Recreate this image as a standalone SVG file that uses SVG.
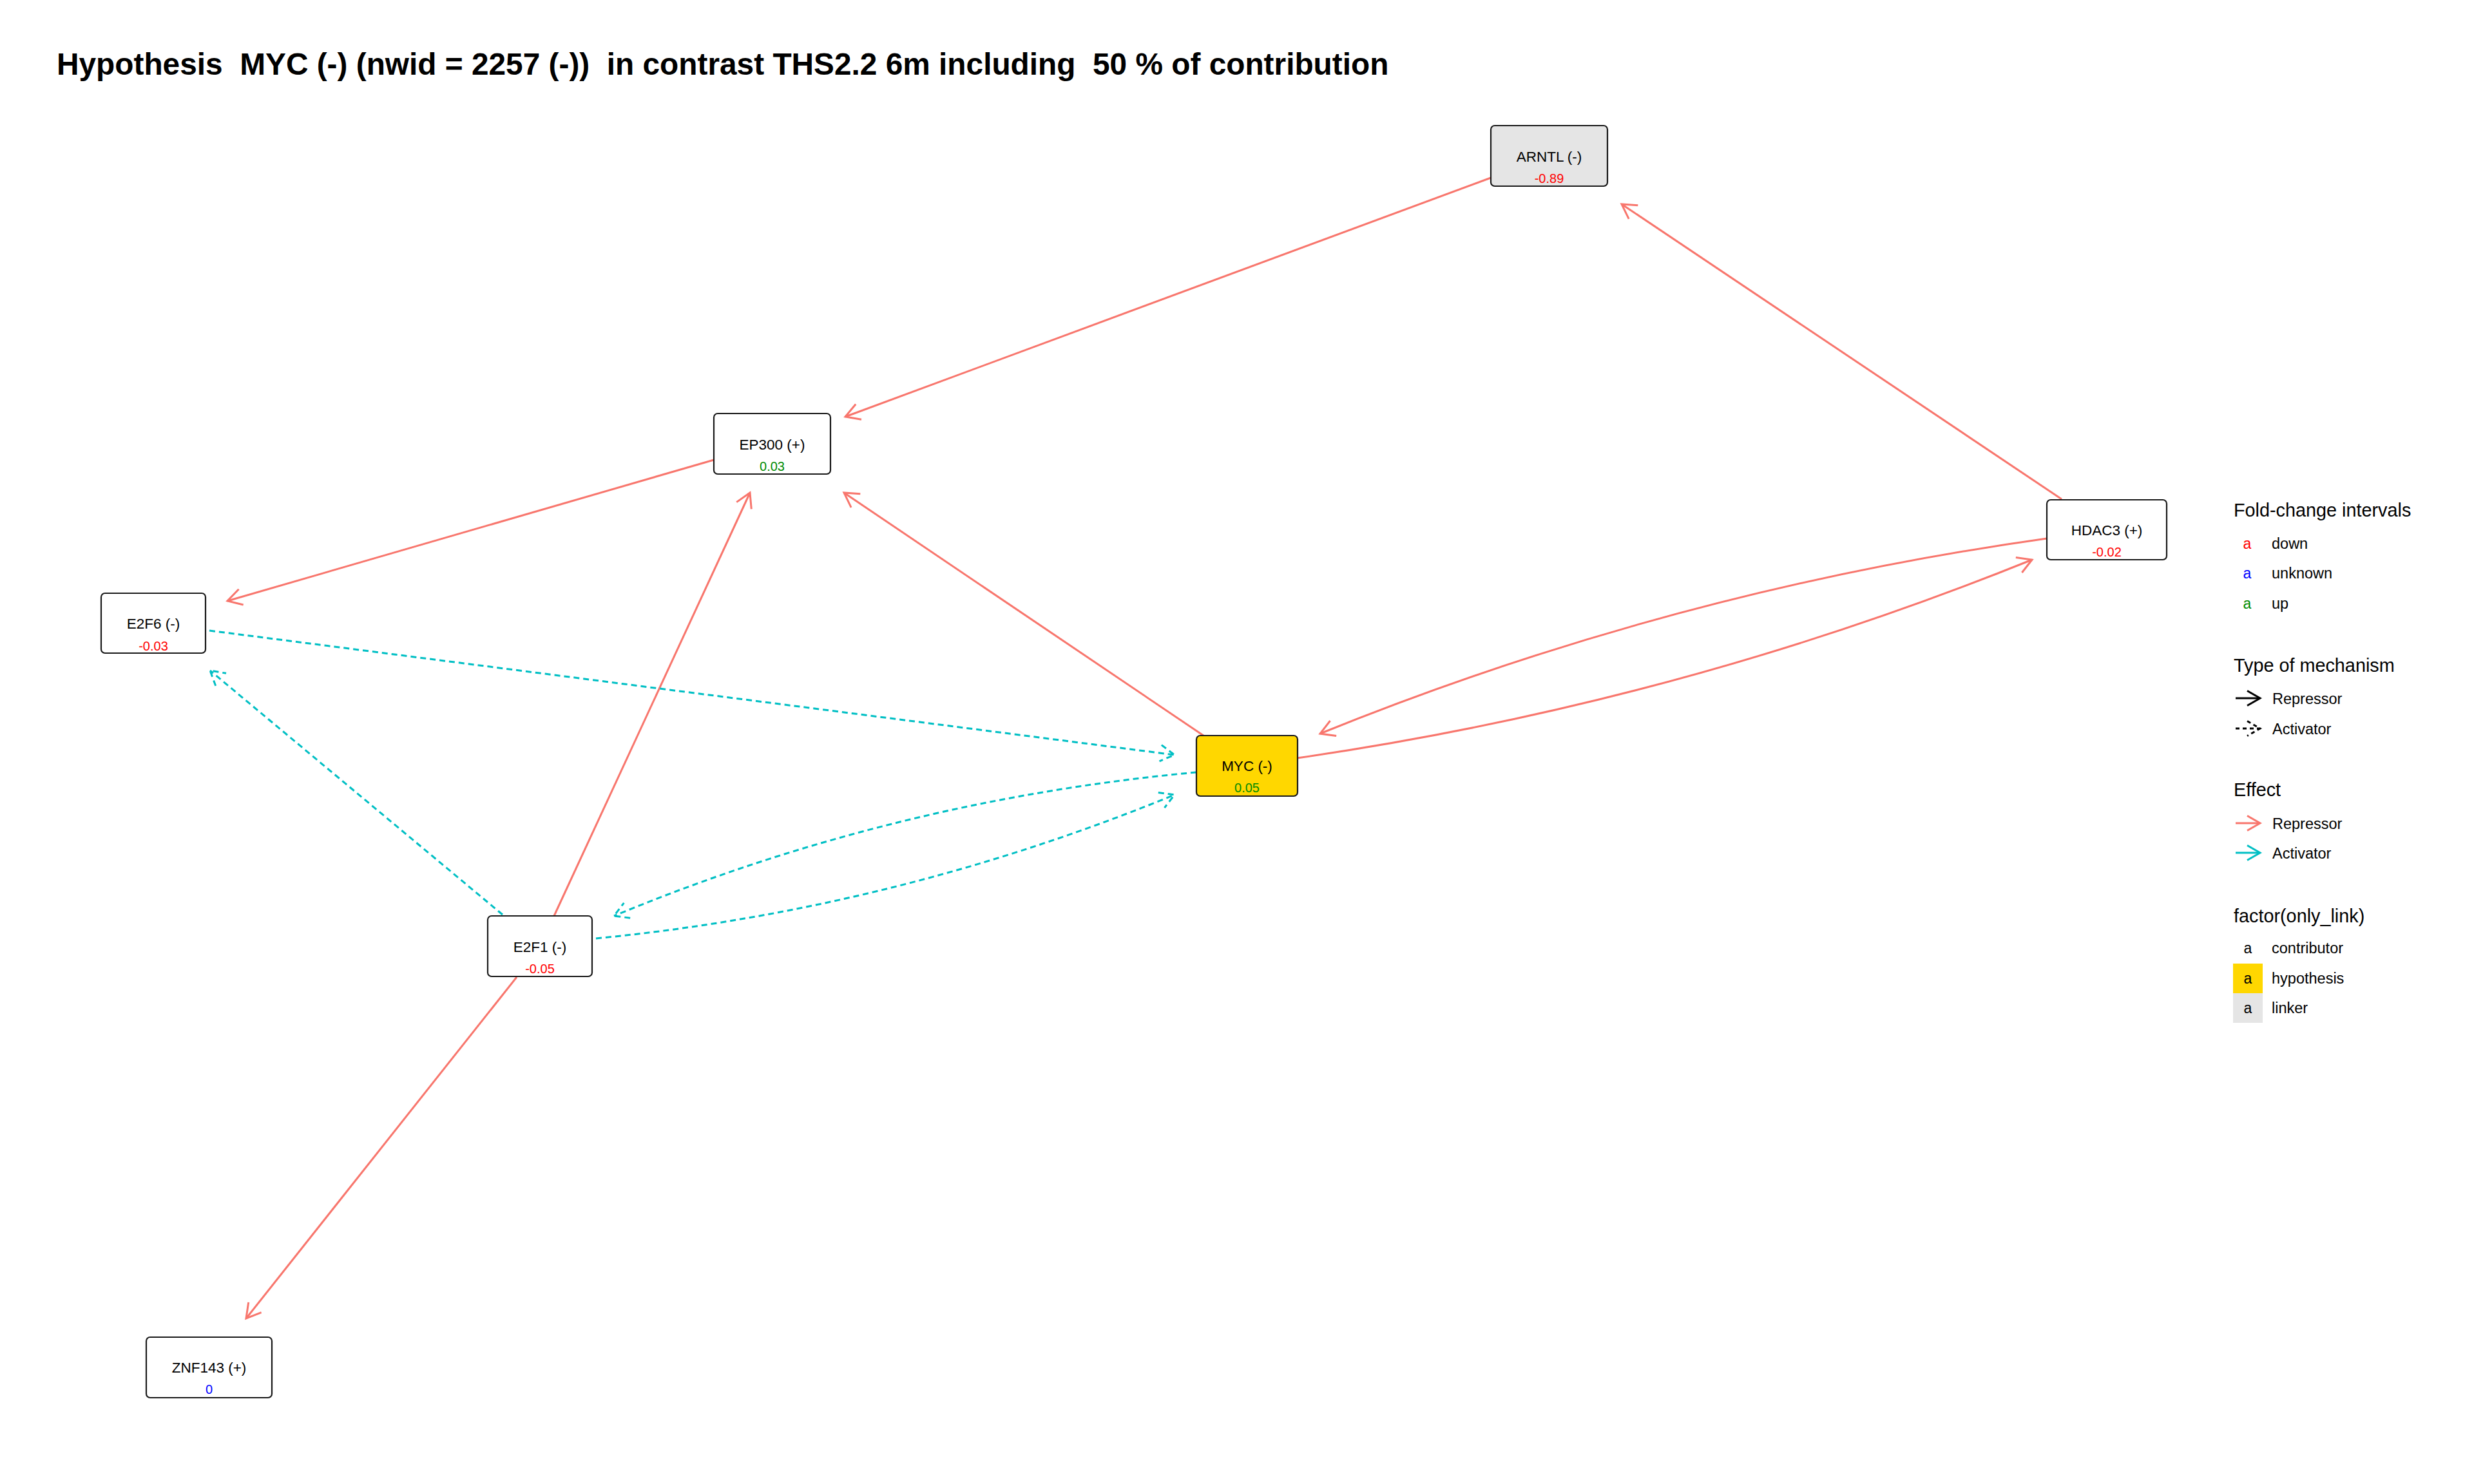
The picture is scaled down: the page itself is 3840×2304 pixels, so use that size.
<svg xmlns="http://www.w3.org/2000/svg" width="3840" height="2304" viewBox="0 0 3840 2304">
  <style>
    text { font-family: "Liberation Sans", Arial, sans-serif; }
    .title { font-size: 47.8px; font-weight: bold; fill: #000; }
    .node rect { stroke: #1a1a1a; stroke-width: 2.2; }
    .lbl { font-size: 22.5px; text-anchor: middle; fill: #000; }
    .val { font-size: 20px; text-anchor: middle; }
    .down { fill: #FF0000; }
    .up { fill: #008B00; }
    .unk { fill: #0000FF; }
    .contrib { fill: #FFFFFF; }
    .hyp { fill: #FFD700; }
    .linker { fill: #E5E5E5; }
    .rep { fill: none; stroke: #F8766D; stroke-width: 3; marker-end: url(#arrRep); }
    .act { fill: none; stroke: #00BFC4; stroke-width: 3; stroke-dasharray: 9 6; marker-end: url(#arrAct); }
    .lgt { font-size: 28.8px; fill: #000; }
    .lgl { font-size: 23.5px; fill: #000; }
    .key { font-size: 23px; text-anchor: middle; }
  </style>
  <defs>
    <marker id="arrRep" markerUnits="userSpaceOnUse" orient="auto" refX="0" refY="0" markerWidth="40" markerHeight="40" overflow="visible">
      <path d="M-22,-12.7 L0,0 L-22,12.7" fill="none" stroke="#F8766D" stroke-width="3"/>
    </marker>
    <marker id="arrAct" markerUnits="userSpaceOnUse" orient="auto" refX="0" refY="0" markerWidth="40" markerHeight="40" overflow="visible">
      <path d="M-22,-12.7 L0,0 L-22,12.7" fill="none" stroke="#00BFC4" stroke-width="3" stroke-dasharray="9 6"/>
    </marker>
    <marker id="arrBlk" markerUnits="userSpaceOnUse" orient="auto" refX="0" refY="0" markerWidth="40" markerHeight="40" overflow="visible">
      <path d="M-20,-11.5 L0,0 L-20,11.5" fill="none" stroke="#000" stroke-width="3"/>
    </marker>
    <marker id="arrBlkDash" markerUnits="userSpaceOnUse" orient="auto" refX="0" refY="0" markerWidth="40" markerHeight="40" overflow="visible">
      <path d="M-20,-11.5 L0,0 L-20,11.5" fill="none" stroke="#000" stroke-width="3" stroke-dasharray="6 5"/>
    </marker>
    <marker id="arrRepL" markerUnits="userSpaceOnUse" orient="auto" refX="0" refY="0" markerWidth="40" markerHeight="40" overflow="visible">
      <path d="M-20,-11.5 L0,0 L-20,11.5" fill="none" stroke="#F8766D" stroke-width="3"/>
    </marker>
    <marker id="arrActL" markerUnits="userSpaceOnUse" orient="auto" refX="0" refY="0" markerWidth="40" markerHeight="40" overflow="visible">
      <path d="M-20,-11.5 L0,0 L-20,11.5" fill="none" stroke="#00BFC4" stroke-width="3"/>
    </marker>
  </defs>

  <rect width="3840" height="2304" fill="#FFFFFF"/>

  <text class="title" x="88" y="116" xml:space="preserve">Hypothesis  MYC (-) (nwid = 2257 (-))  in contrast THS2.2 6m including  50 % of contribution</text>

  <!-- connectors -->
  <g id="edges">
    <path id="e-ARNTL-EP300" class="rep" d="M2314,276 L1312,647"/>
    <path id="e-HDAC3-ARNTL" class="rep" d="M3200,775 L2517,317"/>
    <path id="e-EP300-E2F6" class="rep" d="M1108,714 L353,933"/>
    <path id="e-MYC-EP300" class="rep" d="M1868,1142 L1310,765"/>
    <path id="e-E2F1-EP300" class="rep" d="M860,1422 L1164,765"/>
    <path id="e-HDAC3-MYC" class="rep" d="M3177,836 Q2594,918 2049,1139"/>
    <path id="e-MYC-HDAC3" class="rep" d="M2013,1177 Q2602,1092 3154,869"/>
    <path id="e-E2F6-MYC" class="act" d="M325,979 L1823,1172"/>
    <path id="e-E2F1-E2F6" class="act" d="M780,1420 L326,1041"/>
    <path id="e-MYC-E2F1" class="act" d="M1857,1199 Q1387,1242 953,1422"/>
    <path id="e-E2F1-MYC" class="act" d="M925,1457 Q1388,1412 1823,1234"/>
    <path id="e-E2F1-ZNF143" class="rep" d="M802,1517 L382,2047"/>
  </g>

  <!-- nodes -->
  <g id="node-ARNTL" class="node">
    <rect class="linker" x="2314" y="195" width="181" height="94" rx="6"/>
    <text class="lbl" x="2404.5" y="251">ARNTL (-)</text>
    <text class="val down" x="2404.5" y="284">-0.89</text>
  </g>
  <g id="node-EP300" class="node">
    <rect class="contrib" x="1108" y="642" width="181" height="94" rx="6"/>
    <text class="lbl" x="1198.5" y="698">EP300 (+)</text>
    <text class="val up" x="1198.5" y="731">0.03</text>
  </g>
  <g id="node-E2F6" class="node">
    <rect class="contrib" x="157" y="921" width="162" height="93" rx="6"/>
    <text class="lbl" x="238" y="976">E2F6 (-)</text>
    <text class="val down" x="238" y="1010">-0.03</text>
  </g>
  <g id="node-E2F1" class="node">
    <rect class="contrib" x="757" y="1422" width="162" height="94" rx="6"/>
    <text class="lbl" x="838" y="1478">E2F1 (-)</text>
    <text class="val down" x="838" y="1511">-0.05</text>
  </g>
  <g id="node-MYC" class="node">
    <rect class="hyp" x="1857" y="1142" width="157" height="94" rx="6"/>
    <text class="lbl" x="1935.5" y="1197">MYC (-)</text>
    <text class="val up" x="1935.5" y="1230">0.05</text>
  </g>
  <g id="node-HDAC3" class="node">
    <rect class="contrib" x="3177" y="776" width="186" height="93" rx="6"/>
    <text class="lbl" x="3270" y="831">HDAC3 (+)</text>
    <text class="val down" x="3270" y="864">-0.02</text>
  </g>
  <g id="node-ZNF143" class="node">
    <rect class="contrib" x="227" y="2076" width="195" height="94" rx="6"/>
    <text class="lbl" x="324.5" y="2131">ZNF143 (+)</text>
    <text class="val unk" x="324.5" y="2164">0</text>
  </g>

  <!-- legend -->
  <g id="legend">
    <text class="lgt" x="3467" y="802">Fold-change intervals</text>
    <text class="key down" x="3488" y="852">a</text>
    <text class="lgl" x="3526" y="852">down</text>
    <text class="key unk" x="3488" y="898">a</text>
    <text class="lgl" x="3526" y="898">unknown</text>
    <text class="key up" x="3488" y="945">a</text>
    <text class="lgl" x="3526" y="945">up</text>

    <text class="lgt" x="3467" y="1043">Type of mechanism</text>
    <path d="M3470,1084 L3508,1084" fill="none" stroke="#000" stroke-width="3" marker-end="url(#arrBlk)"/>
    <text class="lgl" x="3527" y="1093">Repressor</text>
    <path d="M3470,1131 L3508,1131" fill="none" stroke="#000" stroke-width="3" stroke-dasharray="6 5" marker-end="url(#arrBlkDash)"/>
    <text class="lgl" x="3527" y="1140">Activator</text>

    <text class="lgt" x="3467" y="1236">Effect</text>
    <path d="M3470,1278 L3508,1278" fill="none" stroke="#F8766D" stroke-width="3" marker-end="url(#arrRepL)"/>
    <text class="lgl" x="3527" y="1287">Repressor</text>
    <path d="M3470,1324 L3508,1324" fill="none" stroke="#00BFC4" stroke-width="3" marker-end="url(#arrActL)"/>
    <text class="lgl" x="3527" y="1333">Activator</text>

    <text class="lgt" x="3467" y="1432">factor(only_link)</text>
    <rect x="3466" y="1450" width="46" height="46" fill="#FFFFFF"/>
    <text class="key" x="3489" y="1480">a</text>
    <text class="lgl" x="3526" y="1480">contributor</text>
    <rect x="3466" y="1496" width="46" height="46" fill="#FFD700"/>
    <text class="key" x="3489" y="1527">a</text>
    <text class="lgl" x="3526" y="1527">hypothesis</text>
    <rect x="3466" y="1542" width="46" height="46" fill="#E5E5E5"/>
    <text class="key" x="3489" y="1573">a</text>
    <text class="lgl" x="3526" y="1573">linker</text>
  </g>
</svg>
